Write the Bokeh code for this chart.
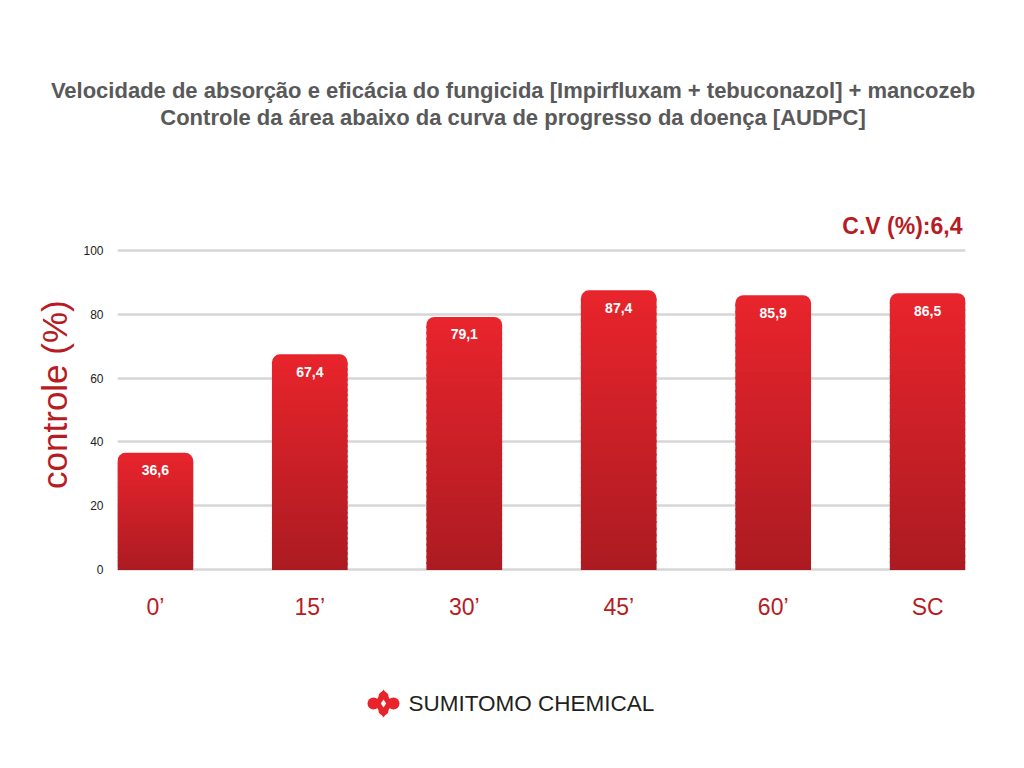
from bokeh.plotting import figure
from bokeh.layouts import column, row
from bokeh.models import ColumnDataSource, Range1d, FixedTicker
from bokeh.core.properties import value
from bokeh.embed import file_html
from bokeh.resources import INLINE

# ---- data ----
categories = ["0\u2019", "15\u2019", "30\u2019", "45\u2019", "60\u2019", "SC"]
controle = [36.6, 67.4, 79.1, 87.4, 85.9, 86.5]
y_ticks = [0, 20, 40, 60, 80, 100]
title_1 = "Velocidade de absorção e eficácia do fungicida [Impirfluxam + tebuconazol] + mancozeb"
title_2 = "Controle da área abaixo da curva de progresso da doença [AUDPC]"
cv_text = "C.V (%):6,4"
y_label = "controle (%)"
brand = "SUMITOMO CHEMICAL"

# ---- style ----
RED_TXT = "#b71c24"
LOGO_RED = "#e8232b"
TOP_C = (233, 36, 44)
BOT_C = (172, 27, 34)
BAR_W = 0.49
N_SLICES = 40
PAGE_W = 1020
FONT = "Liberation Sans"


def overlay(w, h, x0, y0):
    """A blank figure whose data space is page pixels (y downward)."""
    f = figure(width=w, height=h, output_backend="svg", toolbar_location=None,
               x_range=Range1d(x0, x0 + w), y_range=Range1d(y0 + h, y0),
               min_border=0)
    f.axis.visible = False
    f.grid.visible = False
    f.outline_line_color = None
    f.background_fill_color = "white"
    f.border_fill_color = "white"
    return f


# ---- header ----
top = overlay(PAGE_W, 240, 0, 0)
top.text(x=[512.5, 512.5], y=[90, 117], text=[title_1, title_2],
         text_align="center", text_baseline="middle", text_font=value(FONT),
         text_font_style="bold", text_font_size="22px", text_color="#595959")
top.text(x=[962], y=[225], text=[cv_text], text_align="right",
         text_baseline="middle", text_font=value(FONT), text_font_style="bold",
         text_font_size="23px", text_color=RED_TXT)

# ---- y label column ----
left = overlay(80, 420, 0, 240)
left.text(x=[54], y=[552], text=[y_label], angle=1.5707963,
          text_align="left", text_baseline="middle", text_font=value(FONT),
          text_font_size="35px", text_color=RED_TXT)

# ---- main chart ----
p = figure(width=PAGE_W - 80, height=420, output_backend="svg",
           toolbar_location=None,
           x_range=Range1d(-0.245, 5.245), y_range=Range1d(-0.8, 100.8),
           min_border_left=36, min_border_right=PAGE_W - 965,
           min_border_top=7, min_border_bottom=88)
p.outline_line_color = None
p.background_fill_color = "white"
p.border_fill_color = "white"

xs = list(range(len(categories)))
px_per_unit = 325 / 101.6


def mix(t):
    return "#%02x%02x%02x" % tuple(
        round(BOT_C[k] + (TOP_C[k] - BOT_C[k]) * t) for k in range(3))


# gradient: overlapping slices + a rounded cap
sx, sb, st, sc = [], [], [], []
cx, cb, ct, cc = [], [], [], []
cap = 11 / px_per_unit
ov = 2.0 / px_per_unit
for x, v in zip(xs, controle):
    lim = v - cap
    for i in range(N_SLICES):
        b = lim * i / N_SLICES
        t = lim * (i + 1) / N_SLICES
        sx.append(x)
        sb.append(b)
        st.append(t + ov)
        sc.append(mix((b + t) / 2 / v))
    cx.append(x)
    cb.append(lim)
    ct.append(v)
    cc.append(mix((lim + v) / 2 / v))

p.vbar(x="x", bottom="bottom", top="top", width=BAR_W,
       source=ColumnDataSource(dict(x=cx, bottom=cb, top=ct, color=cc)),
       fill_color="color", line_color=None, border_radius=(8, 8, 0, 0))
p.vbar(x="x", bottom="bottom", top="top", width=BAR_W,
       source=ColumnDataSource(dict(x=sx, bottom=sb, top=st, color=sc)),
       fill_color="color", line_color=None)

# value labels
lab_src = ColumnDataSource(dict(x=xs, y=controle,
                                t=[("%.1f" % v).replace(".", ",") for v in controle]))
p.text(x="x", y="y", text="t", source=lab_src, text_color="white",
       text_font=value(FONT), text_font_style="bold",
       text_font_size="14px", text_align="center", text_baseline="middle",
       y_offset=17.5)

# axes
p.xaxis.ticker = FixedTicker(ticks=xs)
p.xaxis.major_label_overrides = {i: c for i, c in zip(xs, categories)}
p.xaxis.axis_line_color = None
p.xaxis.major_tick_line_color = None
p.xaxis.major_tick_out = 0
p.xaxis.major_tick_in = 0
p.xaxis.minor_tick_line_color = None
p.xaxis.major_label_text_font = FONT
p.xaxis.major_label_text_font_size = "23px"
p.xaxis.major_label_text_color = RED_TXT
p.xaxis.major_label_standoff = 21

p.yaxis.ticker = FixedTicker(ticks=y_ticks)
p.yaxis.axis_line_color = None
p.yaxis.major_tick_line_color = None
p.yaxis.major_tick_out = 0
p.yaxis.major_tick_in = 0
p.yaxis.minor_tick_line_color = None
p.yaxis.major_label_text_font = FONT
p.yaxis.major_label_text_font_size = "12px"
p.yaxis.major_label_text_color = "#222222"
p.yaxis.major_label_standoff = 14

p.xgrid.grid_line_color = None
p.ygrid.ticker = FixedTicker(ticks=y_ticks)
p.ygrid.grid_line_color = "#d6d6d6"
p.ygrid.grid_line_width = 2.5

# ---- footer with logo ----
bot = overlay(PAGE_W, 104, 0, 660)
bot.scatter(x=[383], y=[703], marker="diamond", size=28, fill_color=LOGO_RED,
            line_color=None)
bot.scatter(x=[373, 393, 383, 383], y=[703, 703, 696, 710], marker="circle",
            size=[12, 12, 10, 10], fill_color=LOGO_RED, line_color=None)
bot.scatter(x=[383], y=[703], marker="diamond", size=8, fill_color="white",
            line_color=None)
bot.text(x=[408], y=[703], text=[brand], text_align="left",
         text_baseline="middle",
         text_font=value("Liberation Sans Narrow, Liberation Sans"),
         text_font_size="22.5px", text_color="#231f20")

layout = column(top, row(left, p), bot)
open("out.html", "w").write(file_html(layout, INLINE))
